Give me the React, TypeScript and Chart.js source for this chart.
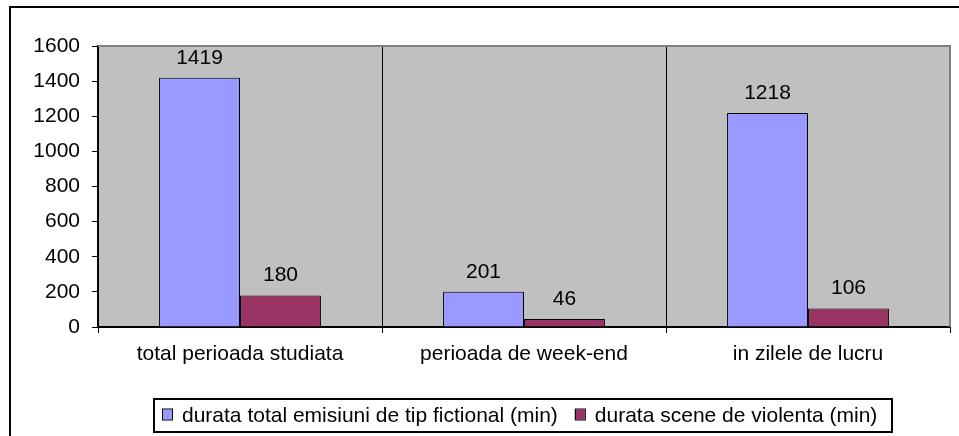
import React, { useEffect, useRef } from "react";
import { Chart, registerables } from "chart.js";

Chart.register(...registerables);

const categories = ["total perioada studiata", "perioada de week-end", "in zilele de lucru"];
const fictionalMinutes = [1419, 201, 1218];
const violenceMinutes = [180, 46, 106];
const seriesNames = ["durata total emisiuni de tip fictional (min)", "durata scene de violenta (min)"];
const seriesColors = ["#9999FF", "#993366"];
const yTicksMax = 1600;
const yTickStep = 200;

const FONT = "Liberation Sans, Arial, sans-serif";
const FS = 21;

const decorPlugin = {
  id: "decor",
  beforeDraw(chart: any) {
    const { ctx, chartArea } = chart;
    ctx.save();
    ctx.fillStyle = "#ffffff";
    ctx.fillRect(0, 0, chart.width, chart.height);
    ctx.strokeStyle = "#000000";
    ctx.lineWidth = 2;
    ctx.strokeRect(10, 7, 2000, 2000);
    ctx.fillStyle = "#C0C0C0";
    ctx.fillRect(chartArea.left, chartArea.top, chartArea.right - chartArea.left, chartArea.bottom - chartArea.top);
    ctx.restore();
  },
  afterDraw(chart: any) {
    const { ctx, chartArea } = chart;
    ctx.save();
    ctx.strokeStyle = "#808080";
    ctx.lineWidth = 2;
    ctx.beginPath();
    ctx.moveTo(chartArea.left, chartArea.top);
    ctx.lineTo(chartArea.right, chartArea.top);
    ctx.lineTo(chartArea.right, chartArea.bottom);
    ctx.stroke();
    ctx.strokeStyle = "#000";
    ctx.lineWidth = 1;
    ctx.beginPath();
    ctx.moveTo(chartArea.right + 0.5, chartArea.bottom);
    ctx.lineTo(chartArea.right + 0.5, chartArea.bottom + 6);
    ctx.stroke();

    ctx.fillStyle = "#000";
    ctx.font = `${FS}px ${FONT}`;
    ctx.textAlign = "center";
    ctx.textBaseline = "alphabetic";
    chart.data.datasets.forEach((ds: any, di: number) => {
      const meta = chart.getDatasetMeta(di);
      meta.data.forEach((bar: any, i: number) => {
        ctx.fillText(String(ds.data[i]), bar.x, bar.y - 14);
      });
    });

    const lx = 154, ly = 399, lw = 738, lh = 33;
    ctx.strokeStyle = "#000";
    ctx.lineWidth = 2;
    ctx.strokeRect(lx, ly, lw, lh);
    ctx.font = `${FS}px ${FONT}`;
    ctx.textAlign = "left";
    ctx.textBaseline = "middle";
    const cy = ly + lh / 2;
    const widths = seriesNames.map((n) => ctx.measureText(n).width);
    const sw = 10, gap1 = 10, gap2 = 17;
    let x = lx + 8;
    seriesNames.forEach((n, i) => {
      ctx.fillStyle = seriesColors[i];
      ctx.fillRect(x, cy - 6, sw, 10);
      ctx.lineWidth = 1;
      ctx.strokeStyle = "#000";
      ctx.strokeRect(x + 0.5, cy - 6.5, sw, 11);
      ctx.fillStyle = "#000";
      ctx.fillText(n, x + sw + gap1, cy + 1);
      x += sw + gap1 + widths[i] + gap2;
    });
    ctx.restore();
  },
};

export default function App() {
  const ref = useRef<HTMLCanvasElement>(null);
  useEffect(() => {
    if (!ref.current) return;
    const chart = new Chart(ref.current, {
      type: "bar",
      data: {
        labels: categories,
        datasets: [
          {
            label: seriesNames[0],
            data: fictionalMinutes,
            backgroundColor: seriesColors[0],
            borderColor: "#000",
            borderWidth: 1,
            barPercentage: 1,
            categoryPercentage: 0.57,
          },
          {
            label: seriesNames[1],
            data: violenceMinutes,
            backgroundColor: seriesColors[1],
            borderColor: "#000",
            borderWidth: 1,
            barPercentage: 1,
            categoryPercentage: 0.57,
          },
        ],
      },
      options: {
        responsive: false,
        animation: false,
        layout: { padding: { top: 46, right: 9, left: 0, bottom: 49 } },
        plugins: { legend: { display: false }, tooltip: { enabled: false } },
        scales: {
          x: {
            afterFit: (s: any) => {
              s.height = 60;
            },
            grid: {
              offset: true,
              color: "#000",
              lineWidth: 1,
              tickLength: 6,
              drawOnChartArea: true,
            },
            border: { color: "#000", width: 2 },
            ticks: { color: "#000", font: { family: FONT, size: FS }, padding: 9, maxRotation: 0 },
          },
          y: {
            min: 0,
            max: yTicksMax,
            afterFit: (s: any) => {
              s.width = 98;
            },
            grid: { drawOnChartArea: false, color: "#000", tickLength: 6 },
            border: { color: "#000", width: 2 },
            ticks: {
              stepSize: yTickStep,
              color: "#000",
              font: { family: FONT, size: FS },
              padding: 12,
              callback: (v: any) => String(v),
            },
          },
        },
      },
      plugins: [decorPlugin],
    });
    return () => chart.destroy();
  }, []);
  return (
    <div style={{ position: "absolute", left: 0, top: 0, width: 959, height: 436 }}>
      <canvas ref={ref} width={959} height={436} style={{ display: "block" }} />
    </div>
  );
}
